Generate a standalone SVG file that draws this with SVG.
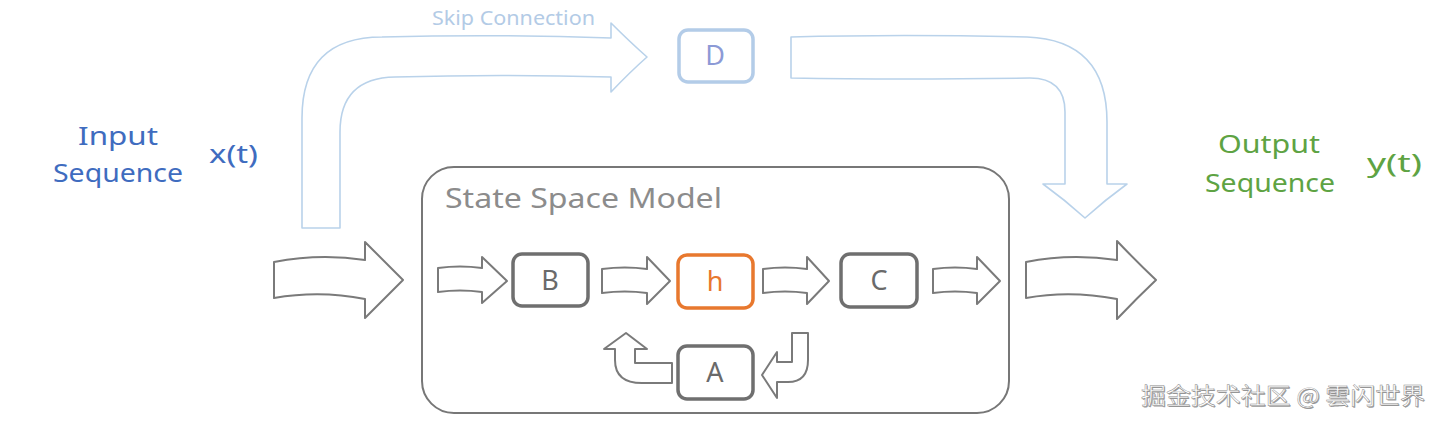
<svg xmlns="http://www.w3.org/2000/svg" width="1440" height="423" viewBox="0 0 1440 423">
<style>
.arr{fill:#fff;stroke:#7a7a7a;stroke-width:2;stroke-linejoin:round}
.skip{fill:#fff;stroke:#b9d2ea;stroke-width:1.6;stroke-linejoin:round}
.box{fill:#fff;stroke:#6f6f6f;stroke-width:3.5}
.lbl{font-family:"Noto Sans","Liberation Sans",sans-serif;font-size:27px;fill:#6a6a6a;text-anchor:middle}
.t{font-family:"Noto Sans","Liberation Sans",sans-serif}
.wm{font-family:"Noto Sans CJK SC",sans-serif;font-size:23px}
</style>
<rect width="1440" height="423" fill="#fff"/>
<g id="connectors">
  <path class="skip" d="M302,228 L302,118 Q302,37 382,37 Q500,34 611,38 L611,23 Q630,42 647,57 Q630,72 611,92 L611,77 Q500,74 395,77 Q340,78 340,132 L340,228 Z"/>
  <path class="skip" d="M791,37 Q900,34 1027,37 Q1107,40 1107,122 L1107,184 L1127,184 Q1105,200 1085,218 Q1065,200 1043,184 L1065,184 L1065,112 Q1065,78 1030,78 Q900,80 791,78 Z"/>
  <path class="arr" d="M274,262 Q320,253 365,260 L365,242 Q385,262 403,280 Q385,298 365,318 L365,299 Q320,290 274,298 Z"/>
  <path class="arr" d="M1026,262 Q1070,253 1117,260 L1117,241 Q1137,262 1156,280 Q1137,298 1117,319 L1117,299 Q1070,290 1026,298 Z"/>
  <path class="arr" d="M438,268 Q460,265 482,268 L482,257 L507,281 L482,303 L482,292 Q460,289 438,292 Z"/>
  <path class="arr" d="M602,269 Q625,266 647,269 L647,257 L670,281 L647,304 L647,293 Q625,290 602,293 Z"/>
  <path class="arr" d="M763,269 Q785,266 807,269 L807,257 L829,281 L807,304 L807,293 Q785,290 763,293 Z"/>
  <path class="arr" d="M933,269 Q955,266 977,269 L977,257 L1000,281 L977,304 L977,293 Q955,290 933,293 Z"/>
  <path class="arr" d="M672,363 L635,363 L635,349 L647,349 L626,333 L604,349 L615,349 L615,360 Q615,383 642,383 L672,383 Z"/>
  <path class="arr" d="M792,333 L808,333 L808,360 Q808,382 788,382 L777,382 L777,398 L762,375 L777,352 L777,362 L792,362 Z"/>
</g>
<g id="ssm">
  <rect x="422" y="167" width="587" height="246" rx="32" fill="none" stroke="#777" stroke-width="2"/>
  <text class="t" x="445" y="208" font-size="28" fill="#8c8c8c" textLength="277" lengthAdjust="spacingAndGlyphs">State Space Model</text>
</g>
<g id="node-D">
  <rect x="679" y="30" width="74" height="52" rx="9" fill="#fff" stroke="#b3cce8" stroke-width="3.5"/>
  <text class="lbl" x="715" y="65" style="fill:#8c9ad6">D</text>
</g>
<g id="node-B">
  <rect class="box" x="513" y="254" width="75" height="52" rx="9"/>
  <text class="lbl" x="550" y="290">B</text>
</g>
<g id="node-h">
  <rect class="box" x="678" y="255" width="75" height="53" rx="9" style="stroke:#e8782e"/>
  <text class="lbl" x="715" y="291" style="fill:#e8782e">h</text>
</g>
<g id="node-C">
  <rect class="box" x="841" y="254" width="76" height="53" rx="9"/>
  <text class="lbl" x="879" y="290">C</text>
</g>
<g id="node-A">
  <rect class="box" x="678" y="346" width="75" height="53" rx="9"/>
  <text class="lbl" x="715" y="382">A</text>
</g>
<g id="skip-label">
  <text class="t" x="432" y="25" font-size="19" fill="#b3cbe6" textLength="163" lengthAdjust="spacingAndGlyphs">Skip Connection</text>
</g>
<g id="input">
  <text class="t" x="78" y="145" font-size="26" fill="#3f6cbf" textLength="80" lengthAdjust="spacingAndGlyphs">Input</text>
  <text class="t" x="53" y="182" font-size="26" fill="#3f6cbf" textLength="130" lengthAdjust="spacingAndGlyphs">Sequence</text>
  <text class="t" x="209" y="163" font-size="26" fill="#3f6cbf" textLength="49" lengthAdjust="spacingAndGlyphs">x(t)</text>
</g>
<g id="output">
  <text class="t" x="1218" y="153" font-size="26" fill="#5ea343" textLength="102" lengthAdjust="spacingAndGlyphs">Output</text>
  <text class="t" x="1205" y="192" font-size="26" fill="#5ea343" textLength="130" lengthAdjust="spacingAndGlyphs">Sequence</text>
  <text class="t" x="1367" y="172" font-size="26" fill="#5ea343" textLength="55" lengthAdjust="spacingAndGlyphs">y(t)</text>
</g>
<g id="watermark">
  <text class="wm" x="1142" y="405" fill="#9a9a9a" textLength="284" lengthAdjust="spacingAndGlyphs">掘金技术社区 @ 雲闪世界</text>
  <text class="wm" x="1141" y="404" fill="#ffffff" stroke="#8a8a8a" stroke-width="0.45" textLength="284" lengthAdjust="spacingAndGlyphs">掘金技术社区 @ 雲闪世界</text>
</g>
</svg>
